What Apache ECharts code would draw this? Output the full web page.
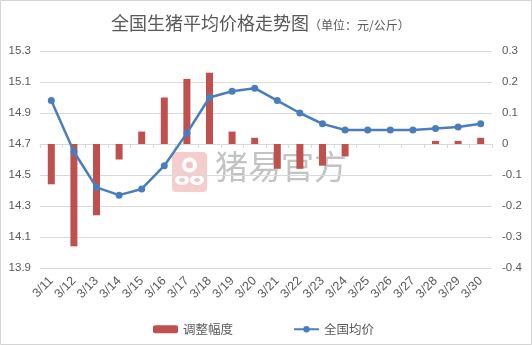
<!DOCTYPE html>
<html>
<head>
<meta charset="utf-8">
<script src="https://cdn.jsdelivr.net/npm/echarts@6/dist/echarts.min.js"></script>
<style>
  html, body { margin: 0; padding: 0; background: #fff; }
  #chart { width: 532px; height: 345px; }
</style>
</head>
<body>
<div id="chart"></div>
<script>
// Dates (March)
const dates = ['3/11','3/12','3/13','3/14','3/15','3/16','3/17','3/18','3/19','3/20',
               '3/21','3/22','3/23','3/24','3/25','3/26','3/27','3/28','3/29','3/30'];
// Daily change of the national average (元/公斤)
const changes = [-0.13,-0.33,-0.23,-0.05,0.04,0.15,0.21,0.23,0.04,0.02,
                 -0.08,-0.08,-0.07,-0.04,0,0,0,0.01,0.01,0.02];
// National average live-hog price (元/公斤)
const prices = [14.98,14.65,14.42,14.37,14.41,14.56,14.77,15.00,15.04,15.06,
                14.98,14.90,14.83,14.79,14.79,14.79,14.79,14.80,14.81,14.83];
// Axis ranges
const priceAxis = { min: 13.9, max: 15.3 };
const changeAxis = { min: -0.4, max: 0.3, interval: 0.1 };

const txt = '#595959';
const font = "'Liberation Sans','Noto Sans CJK SC',sans-serif";
const cjk = "'Noto Sans CJK SC',sans-serif";

const chart = echarts.init(document.getElementById('chart'), null, { renderer: 'canvas' });
chart.setOption({
  backgroundColor: '#fff',
  animation: false,
  title: {
    left: 106, top: 9,
    text: '{m|全国生猪平均价格走势图}{s|（单位：元/公斤）}',
    textStyle: {
      fontWeight: 'normal',
      rich: {
        m: { fontSize: 18, color: txt, fontFamily: cjk, fontWeight: 'normal' },
        s: { fontSize: 12, color: txt, fontFamily: cjk, fontWeight: 'normal', padding: [4, 0, 0, 0] }
      }
    }
  },
  grid: { left: 40, right: 40, top: 51, bottom: 77 },
  legend: {
    left: 148, top: 318,
    itemWidth: 25, itemHeight: 8, itemGap: 60,
    textStyle: { color: txt, fontSize: 12.5, fontFamily: cjk },
    data: ['调整幅度', '全国均价']
  },
  xAxis: {
    type: 'category',
    data: dates,
    boundaryGap: true,
    axisLine: { lineStyle: { color: '#d9d9d9' } },
    axisTick: { show: true, length: 4, lineStyle: { color: '#d9d9d9' } },
    axisLabel: { rotate: 45, color: txt, fontSize: 12.5, fontFamily: font, margin: 11, interval: 0 }
  },
  yAxis: [
    {
      type: 'value', position: 'left',
      min: priceAxis.min, max: priceAxis.max, alignTicks: true,
      axisLine: { show: false }, axisTick: { show: false },
      splitLine: { lineStyle: { color: '#d9d9d9' } },
      axisLabel: { color: txt, fontSize: 11.5, fontFamily: font, margin: 9,
                   formatter: v => v.toFixed(1) }
    },
    {
      type: 'value', position: 'right',
      min: changeAxis.min, max: changeAxis.max, interval: changeAxis.interval,
      axisLine: { show: false }, axisTick: { show: false },
      splitLine: { show: false },
      axisLabel: { color: txt, fontSize: 11.5, fontFamily: font, margin: 10,
                   formatter: v => (Math.abs(v) < 1e-9 ? '0' : String(+v.toFixed(1))) }
    }
  ],
  graphic: [
    { type: 'rect', silent: true, z: 100,
      shape: { x: 0.5, y: 0.5, width: 531, height: 344 },
      style: { fill: 'none', stroke: '#d4d4d4', lineWidth: 1 } },
    // watermark logo + text
    { type: 'group', left: 172, top: 152, z: -1, silent: true, children: [
      { type: 'rect', shape: { x: 0, y: 0, width: 35, height: 40, r: 4 },
        style: { fill: '#f4c4c4', opacity: 0.85 } },
      { type: 'circle', shape: { cx: 17.5, cy: 13, r: 7.5 }, style: { fill: '#fff' } },
      { type: 'circle', shape: { cx: 17.5, cy: 13, r: 3.5 }, style: { fill: '#f4c4c4' } },
      { type: 'ellipse', shape: { cx: 10, cy: 28, rx: 7, ry: 5 }, style: { fill: '#fff' } },
      { type: 'ellipse', shape: { cx: 25, cy: 28, rx: 7, ry: 5 }, style: { fill: '#fff' } },
      { type: 'ellipse', shape: { cx: 10, cy: 28, rx: 3, ry: 2 }, style: { fill: '#f4c4c4' } },
      { type: 'ellipse', shape: { cx: 25, cy: 28, rx: 3, ry: 2 }, style: { fill: '#f4c4c4' } }
    ]},
    { type: 'text', left: 215, top: 150, z: -1, silent: true,
      style: { text: '猪易官方', fill: '#b8b8b8', opacity: 0.85,
               font: "normal 33px 'Noto Sans CJK SC', sans-serif" } }
  ],
  series: [
    {
      name: '调整幅度', type: 'bar', yAxisIndex: 1,
      data: changes, barWidth: 7,
      itemStyle: { color: '#c0504d' }
    },
    {
      name: '全国均价', type: 'line', yAxisIndex: 0,
      data: prices,
      symbol: 'circle', symbolSize: 7,
      lineStyle: { color: '#4a7ebb', width: 2.5 },
      itemStyle: { color: '#4a7ebb' }
    }
  ]
});
</script>
</body>
</html>
